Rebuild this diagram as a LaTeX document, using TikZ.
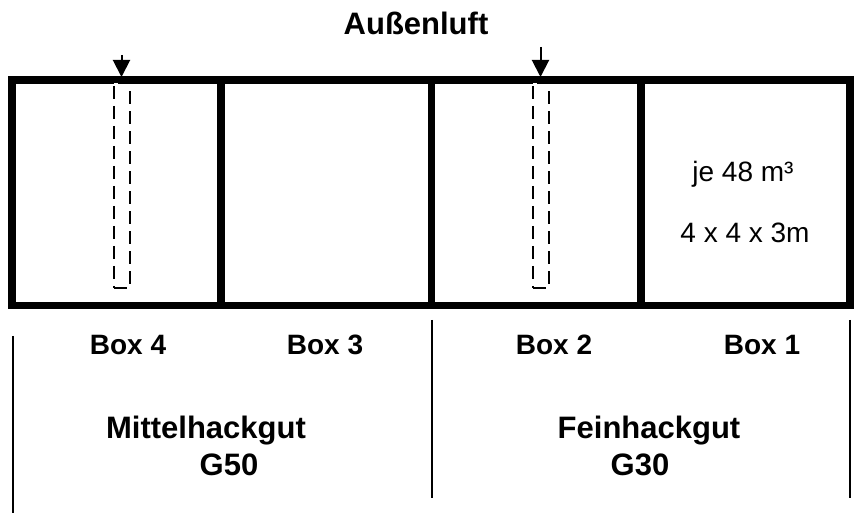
\documentclass[tikz,border=0pt]{standalone}
\usepackage{fontspec}
\setmainfont{Liberation Sans}
\usetikzlibrary{arrows.meta}
\begin{document}
\begin{tikzpicture}[x=1pt,y=-1pt,line width=7.5pt,
 lbl/.style={font=\fontsize{28}{30}\selectfont\bfseries,inner sep=0pt,anchor=base},
 head/.style={font=\fontsize{31}{33}\selectfont\bfseries,inner sep=0pt,anchor=base},
 dim/.style={font=\fontsize{28}{30}\selectfont,inner sep=0pt,anchor=base},
 tube/.style={draw,fill=white,line width=2pt,dash pattern=on 13pt off 7pt,minimum width=16pt,minimum height=205pt,anchor=north,inner sep=0pt},
 inlet/.style={line width=2pt,-{Triangle[length=17pt,width=17pt]}},
 sep/.style={line width=1.6pt}]
\useasboundingbox (0,0) rectangle (855,513);
\draw (12,80) rectangle (850,305.5);
\draw (221,80)--(221,305.5);\draw (431.5,80)--(431.5,305.5);\draw (641,80)--(641,305.5);
\node[tube] (t4) at (121.5,82) {};\node[tube] (t2) at (540.5,82) {};
\coordinate (a4) at (121.5,55);\coordinate (a2) at (540.5,47);
\draw[inlet] (a4)--([yshift=5pt]t4.north);\draw[inlet] (a2)--([yshift=5pt]t2.north);
\node[head] (aussen) at (416,35) {Außenluft};
\node[dim] (vol) at (743,182) {je 48 m³};\node[dim] (mass) at (745,243) {4 x 4 x 3m};
\node[lbl] (b4) at (128,355) {Box 4};\node[lbl] (b3) at (325,355) {Box 3};
\node[lbl] (b2) at (554,355) {Box 2};\node[lbl] (b1) at (762,355) {Box 1};
\node[head] (mittel) at (206,438) {Mittelhackgut};\node[head] (g50) at (229,475) {G50};
\node[head] (fein) at (649,438) {Feinhackgut};\node[head] (g30) at (640,475) {G30};
\draw[sep] (13,336)--(13,513);\draw[sep] (432,320)--(432,498);\draw[sep] (850,320)--(850,498);
\end{tikzpicture}
\end{document}
